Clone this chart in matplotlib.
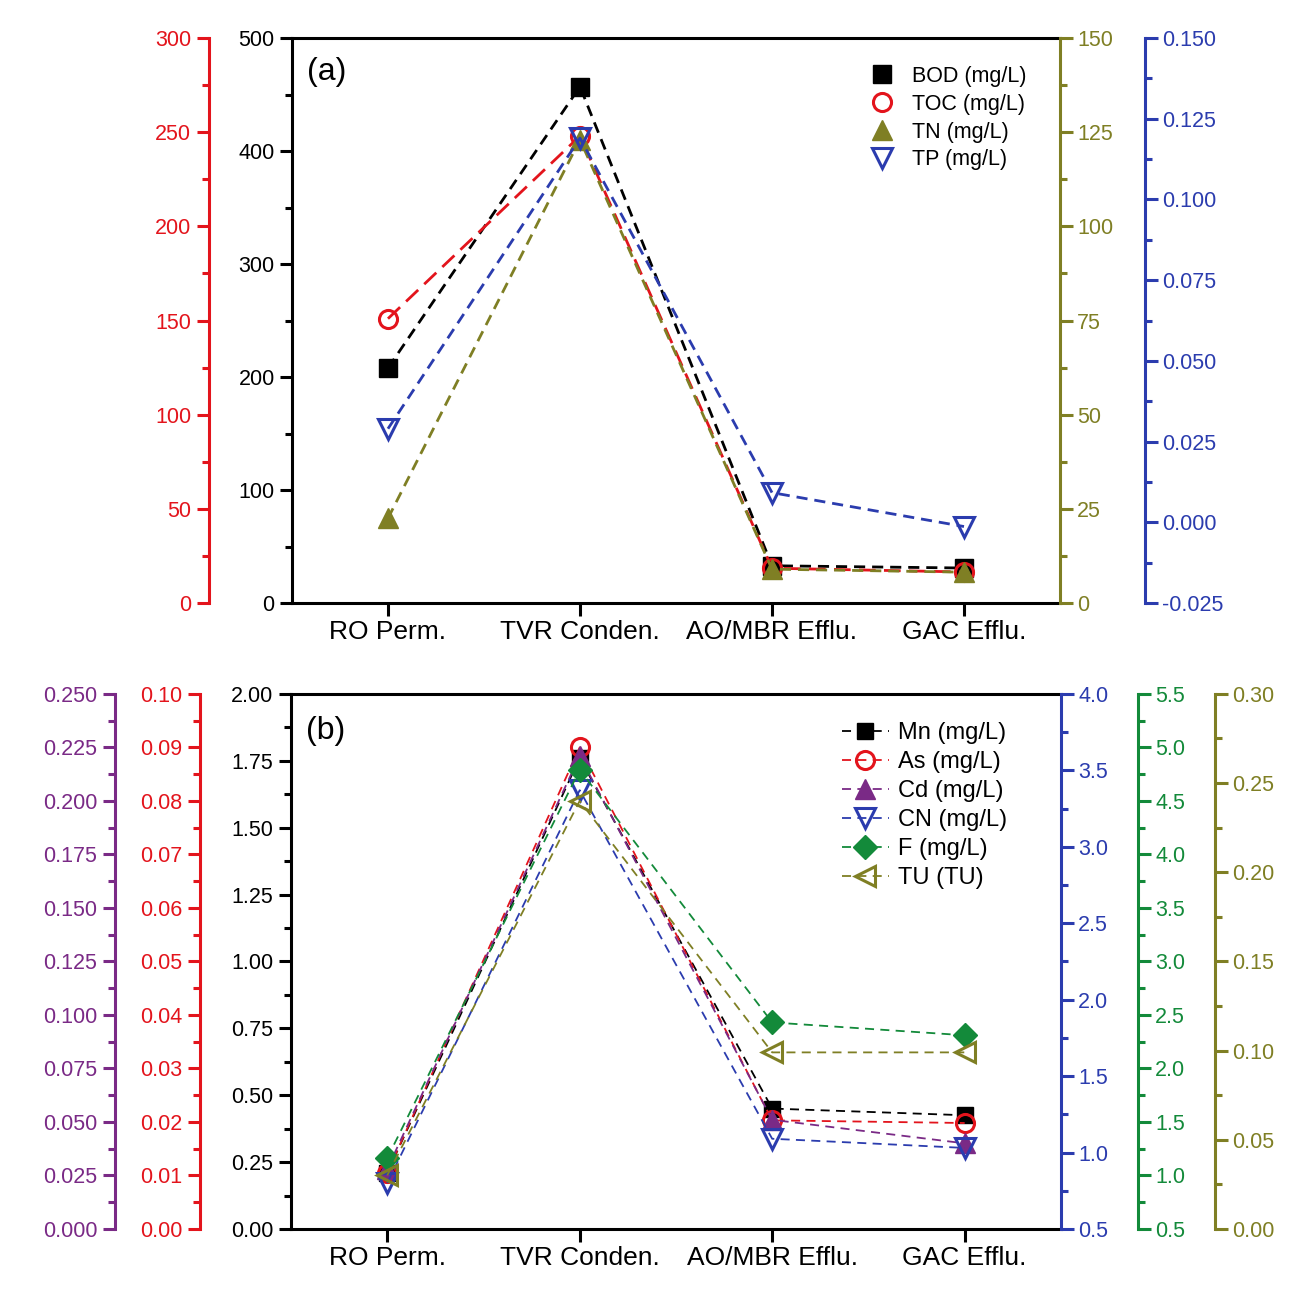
import matplotlib
matplotlib.use("Agg")
import matplotlib.pyplot as plt
from matplotlib.lines import Line2D
from matplotlib.ticker import MultipleLocator, FormatStrFormatter

plt.rcParams['font.family'] = ['Liberation Sans', 'DejaVu Sans']
plt.rcParams['axes.unicode_minus'] = False

categories = ["RO Perm.", "TVR Conden.", "AO/MBR Efflu.", "GAC Efflu."]

# panel (a)
bod = [208, 457, 33, 31]
toc = [151, 248, 18.5, 16.5]
tn = [22.5, 123, 9.0, 8.2]
tp = [0.029, 0.119, 0.0092, -0.0013]

# panel (b)
mn = [0.21, 1.76, 0.45, 0.425]
as_ = [0.0105, 0.090, 0.0203, 0.0198]
cd = [0.028, 0.221, 0.051, 0.040]
cn = [0.80, 3.37, 1.09, 1.03]
fl = [1.16, 4.79, 2.43, 2.31]
tu = [0.030, 0.240, 0.099, 0.099]

RED = '#e3141c'
BLUE = '#2b3cae'
OLIVE = '#7f7f24'
GREEN = '#138a3a'
PURPLE = '#7a2a86'
SPW = 2.2
TICKFS = 15.5

x = list(range(len(categories)))


def extra_axis(ax, side, color, offset, lo, hi, major, fmt):
    ax.set_ylim(lo, hi)
    for s in ax.spines.values():
        s.set_visible(False)
    sp = ax.spines[side]
    sp.set_visible(True)
    sp.set_color(color)
    sp.set_linewidth(SPW)
    sp.set_position(('outward', offset))
    ax.yaxis.set_ticks_position(side)
    ax.yaxis.set_label_position(side)
    ax.yaxis.set_major_locator(MultipleLocator(major))
    ax.yaxis.set_minor_locator(MultipleLocator(major / 2))
    ax.yaxis.set_major_formatter(FormatStrFormatter(fmt))
    ax.tick_params(axis='y', which='both', direction='out', colors=color,
                   labelsize=TICKFS, width=SPW)
    ax.tick_params(axis='y', which='major', length=9)
    ax.tick_params(axis='y', which='minor', length=5)


def main_axis(ax, lo, hi, major, fmt):
    ax.set_xlim(-0.5, 3.5)
    ax.set_ylim(lo, hi)
    for s in ['left', 'top', 'bottom']:
        ax.spines[s].set_linewidth(SPW)
    ax.spines['right'].set_visible(False)
    ax.set_xticks(x)
    ax.set_xticklabels(categories, fontsize=19)
    ax.yaxis.set_major_locator(MultipleLocator(major))
    ax.yaxis.set_minor_locator(MultipleLocator(major / 2))
    ax.yaxis.set_major_formatter(FormatStrFormatter(fmt))
    ax.tick_params(axis='y', which='both', direction='out', labelsize=TICKFS, width=SPW)
    ax.tick_params(axis='y', which='major', length=9)
    ax.tick_params(axis='y', which='minor', length=5)
    ax.tick_params(axis='x', direction='out', length=9, width=SPW, top=False)


fig = plt.figure(figsize=(12.96, 12.98), dpi=100)

# ---------- (a) ----------
axa = fig.add_axes([0.2253, 0.5354, 0.5926, 0.4353])
main_axis(axa, 0, 500, 100, '%d')
a_red = axa.twinx()
extra_axis(a_red, 'left', RED, 60, 0, 300, 50, '%d')
a_ol = axa.twinx()
extra_axis(a_ol, 'right', OLIVE, 0, 0, 150, 25, '%d')
a_bl = axa.twinx()
extra_axis(a_bl, 'right', BLUE, 61, -0.025, 0.150, 0.025, '%.3f')

lwa = 2.0
axa.plot(x, bod, color='k', lw=lwa, ls=(0, (4, 2.5)), marker='s', ms=13)
a_red.plot(x, toc, color=RED, lw=lwa, ls=(0, (6, 3)), marker='o', ms=13,
           mfc='none', mew=2.2)
a_ol.plot(x, tn, color=OLIVE, lw=lwa, ls=(0, (4, 2.5)), marker='^', ms=15)
a_bl.plot(x, tp, color=BLUE, lw=lwa, ls=(0, (4, 2.5)), marker='v', ms=15,
          mfc='none', mew=2.2)

axa.text(0.02, 0.94, '(a)', transform=axa.transAxes, fontsize=23, va='center')

ha = [Line2D([], [], ls='none', marker='s', color='k', ms=13),
      Line2D([], [], ls='none', marker='o', color=RED, ms=13, mfc='none', mew=2.2),
      Line2D([], [], ls='none', marker='^', color=OLIVE, ms=15),
      Line2D([], [], ls='none', marker='v', color=BLUE, ms=15, mfc='none', mew=2.2)]
a_bl.legend(ha, ['BOD (mg/L)', 'TOC (mg/L)', 'TN (mg/L)', 'TP (mg/L)'],
            loc='upper left', bbox_to_anchor=(0.738, 0.97), frameon=False,
            fontsize=15.5, handlelength=1.2, handletextpad=0.75, labelspacing=0.32,
            borderpad=0)

# ---------- (b) ----------
axb = fig.add_axes([0.2245, 0.0532, 0.5941, 0.4122])
main_axis(axb, 0, 2.0, 0.25, '%.2f')
b_red = axb.twinx()
extra_axis(b_red, 'left', RED, 65.5, 0, 0.10, 0.01, '%.2f')
b_pu = axb.twinx()
extra_axis(b_pu, 'left', PURPLE, 127, 0, 0.25, 0.025, '%.3f')
b_bl = axb.twinx()
extra_axis(b_bl, 'right', BLUE, 0, 0.5, 4.0, 0.5, '%.1f')
b_gr = axb.twinx()
extra_axis(b_gr, 'right', GREEN, 55.5, 0.5, 5.5, 0.5, '%.1f')
b_ol = axb.twinx()
extra_axis(b_ol, 'right', OLIVE, 111, 0, 0.30, 0.05, '%.2f')

lwb = 1.3
dsh = (0, (5, 3.5))
axb.plot(x, mn, color='k', lw=lwb, ls=dsh, marker='s', ms=12)
b_red.plot(x, as_, color=RED, lw=lwb, ls=dsh, marker='o', ms=13, mfc='none', mew=2.2)
b_pu.plot(x, cd, color=PURPLE, lw=lwb, ls=dsh, marker='^', ms=14)
b_bl.plot(x, cn, color=BLUE, lw=lwb, ls=dsh, marker='v', ms=15, mfc='none', mew=2.2)
b_gr.plot(x, fl, color=GREEN, lw=lwb, ls=dsh, marker='D', ms=12)
b_ol.plot(x, tu, color=OLIVE, lw=lwb, ls=dsh, marker='<', ms=15, mfc='none', mew=2.2)

axb.text(0.02, 0.93, '(b)', transform=axb.transAxes, fontsize=23, va='center')

hb = [Line2D([], [], color='k', lw=lwb, ls=dsh, marker='s', ms=12),
      Line2D([], [], color=RED, lw=lwb, ls=dsh, marker='o', ms=13, mfc='none', mew=2.2),
      Line2D([], [], color=PURPLE, lw=lwb, ls=dsh, marker='^', ms=14),
      Line2D([], [], color=BLUE, lw=lwb, ls=dsh, marker='v', ms=15, mfc='none', mew=2.2),
      Line2D([], [], color=GREEN, lw=lwb, ls=dsh, marker='D', ms=12),
      Line2D([], [], color=OLIVE, lw=lwb, ls=dsh, marker='<', ms=15, mfc='none', mew=2.2)]
b_ol.legend(hb, ['Mn (mg/L)', 'As (mg/L)', 'Cd (mg/L)', 'CN (mg/L)', 'F (mg/L)', 'TU (TU)'],
            loc='upper left', bbox_to_anchor=(0.70, 0.97), frameon=False,
            fontsize=17, handlelength=2.0, handletextpad=0.4, labelspacing=0.3,
            borderpad=0)

fig.savefig('out.png', dpi=100)
